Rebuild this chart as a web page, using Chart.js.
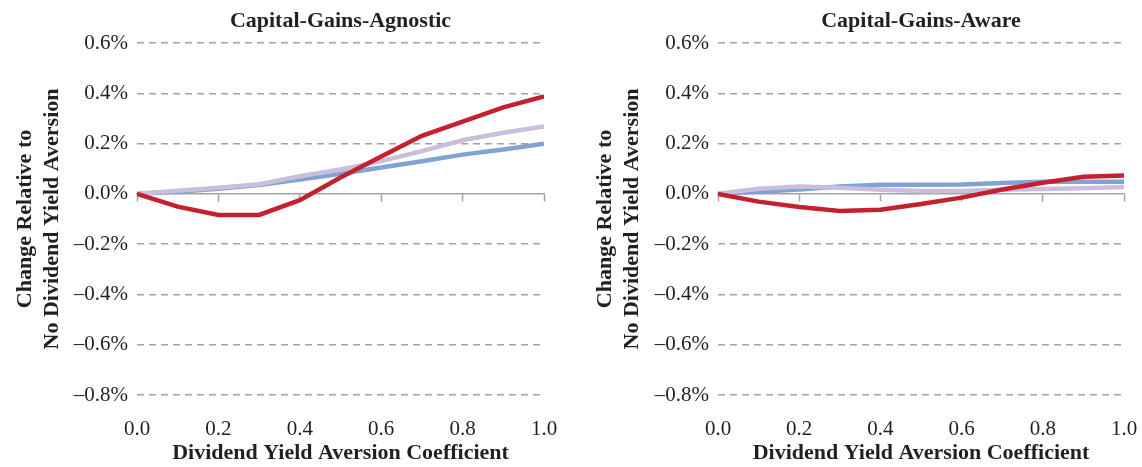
<!DOCTYPE html>
<html>
<head>
<meta charset="utf-8">
<script src="https://cdn.jsdelivr.net/npm/chart.js@4"></script>
<style>
  body { margin: 0; background: #fff; }
  #wrap { position: relative; width: 1142px; height: 467px; }
  .box { position: absolute; top: 0; height: 467px; }
</style>
</head>
<body>
<div id="wrap">
  <div class="box" style="left:0;width:580px"><canvas id="agnostic"></canvas></div>
  <div class="box" style="left:580px;width:562px"><canvas id="aware"></canvas></div>
</div>
<script>
// coefficient on the x axis
const coefficients = [0, 0.1, 0.2, 0.3, 0.4, 0.5, 0.6, 0.7, 0.8, 0.9, 1.0];

// values in %
const agnosticRed = [0, -0.051, -0.084, -0.084, -0.025, 0.065, 0.149, 0.231, 0.287, 0.344, 0.388];
const agnosticLavender = [0, 0.012, 0.024, 0.038, 0.07, 0.097, 0.13, 0.17, 0.213, 0.243, 0.268];
const agnosticBlue = [0, 0.008, 0.02, 0.035, 0.057, 0.08, 0.105, 0.13, 0.156, 0.176, 0.199];

const awareRed = [0, -0.031, -0.052, -0.068, -0.063, -0.04, -0.015, 0.017, 0.044, 0.068, 0.073];
const awareLavender = [0, 0.02, 0.029, 0.024, 0.016, 0.011, 0.011, 0.016, 0.019, 0.022, 0.027];
const awareBlue = [0, 0.008, 0.017, 0.029, 0.036, 0.036, 0.037, 0.043, 0.048, 0.048, 0.048];

const yTicks = [-0.8, -0.6, -0.4, -0.2, 0, 0.2, 0.4, 0.6];

const FONT = "'Liberation Serif', 'Times New Roman', serif";
const INK = "#231f20";
const GRID = "#a3a3a3";

function pct(v) {
    if (Math.abs(v) < 1e-9) return "0.0%";
    return (v < 0 ? "\u2013" : "") + Math.abs(v).toFixed(1) + "%";
}

function points(ys) {
    return coefficients.map((x, i) => ({ x: x, y: ys[i] }));
}

function makeChart(id, title, red, lavender, blue, yWidth, padRight) {
    new Chart(document.getElementById(id), {
        type: "line",
        data: {
            datasets: [
                { data: points(red), borderColor: "#c4202e", borderWidth: 4.5 },
                { data: points(lavender), borderColor: "#c9bedc", borderWidth: 4.5 },
                { data: points(blue), borderColor: "#7fa3d3", borderWidth: 4.5 }
            ]
        },
        options: {
            responsive: true,
            maintainAspectRatio: false,
            animation: false,
            layout: { padding: { left: 0, right: padRight, top: 0, bottom: 0 } },
            elements: { point: { radius: 0 }, line: { tension: 0 } },
            plugins: {
                legend: { display: false },
                tooltip: { enabled: false },
                title: {
                    display: true,
                    fullSize: false,
                    text: title,
                    color: INK,
                    font: { family: FONT, size: 22, weight: "bold" },
                    padding: { top: 8, bottom: 8.6 }
                }
            },
            scales: {
                x: {
                    type: "linear",
                    min: 0,
                    max: 1,
                    ticks: {
                        stepSize: 0.2,
                        color: INK,
                        padding: 0,
                        font: { family: FONT, size: 21 },
                        callback: v => v.toFixed(1)
                    },
                    // invisible tick marks only push the labels down
                    grid: { display: true, drawOnChartArea: false, drawTicks: true, tickLength: 22, tickColor: "rgba(0,0,0,0)" },
                    border: { display: false },
                    title: {
                        display: true,
                        text: "Dividend Yield Aversion Coefficient",
                        color: INK,
                        font: { family: FONT, size: 22, weight: "bold" },
                        padding: { top: 0, bottom: 0 }
                    },
                    afterFit: s => { s.height = 72; }
                },
                x2: {
                    type: "linear",
                    axis: "x",
                    position: { y: 0 },
                    min: 0,
                    max: 1,
                    ticks: { stepSize: 0.2, display: false },
                    grid: { drawOnChartArea: false, drawTicks: true, tickLength: 7, tickColor: GRID, tickWidth: 1.5 },
                    border: { display: true, color: GRID, width: 1.5 }
                },
                y: {
                    min: -0.8,
                    max: 0.6,
                    afterBuildTicks: s => { s.ticks = yTicks.map(v => ({ value: v })); },
                    ticks: {
                        color: INK,
                        padding: 9,
                        font: { family: FONT, size: 21 },
                        callback: v => pct(v)
                    },
                    grid: {
                        drawTicks: false,
                        lineWidth: 1.5,
                        color: c => (c.tick && Math.abs(c.tick.value) < 1e-9) ? "rgba(0,0,0,0)" : GRID
                    },
                    border: { display: false, dash: [7, 5] },
                    title: {
                        display: true,
                        text: ["Change Relative to", "No Dividend Yield Aversion"],
                        color: INK,
                        font: { family: FONT, size: 22, weight: "bold", lineHeight: 1.22 },
                        padding: { top: 12, bottom: 0 }
                    },
                    afterFit: s => { s.width = yWidth; }
                }
            }
        }
    });
}

makeChart("agnostic", "Capital-Gains-Agnostic", agnosticRed, agnosticLavender, agnosticBlue, 137, 36);
makeChart("aware", "Capital-Gains-Aware", awareRed, awareLavender, awareBlue, 138, 18);
</script>
</body>
</html>
